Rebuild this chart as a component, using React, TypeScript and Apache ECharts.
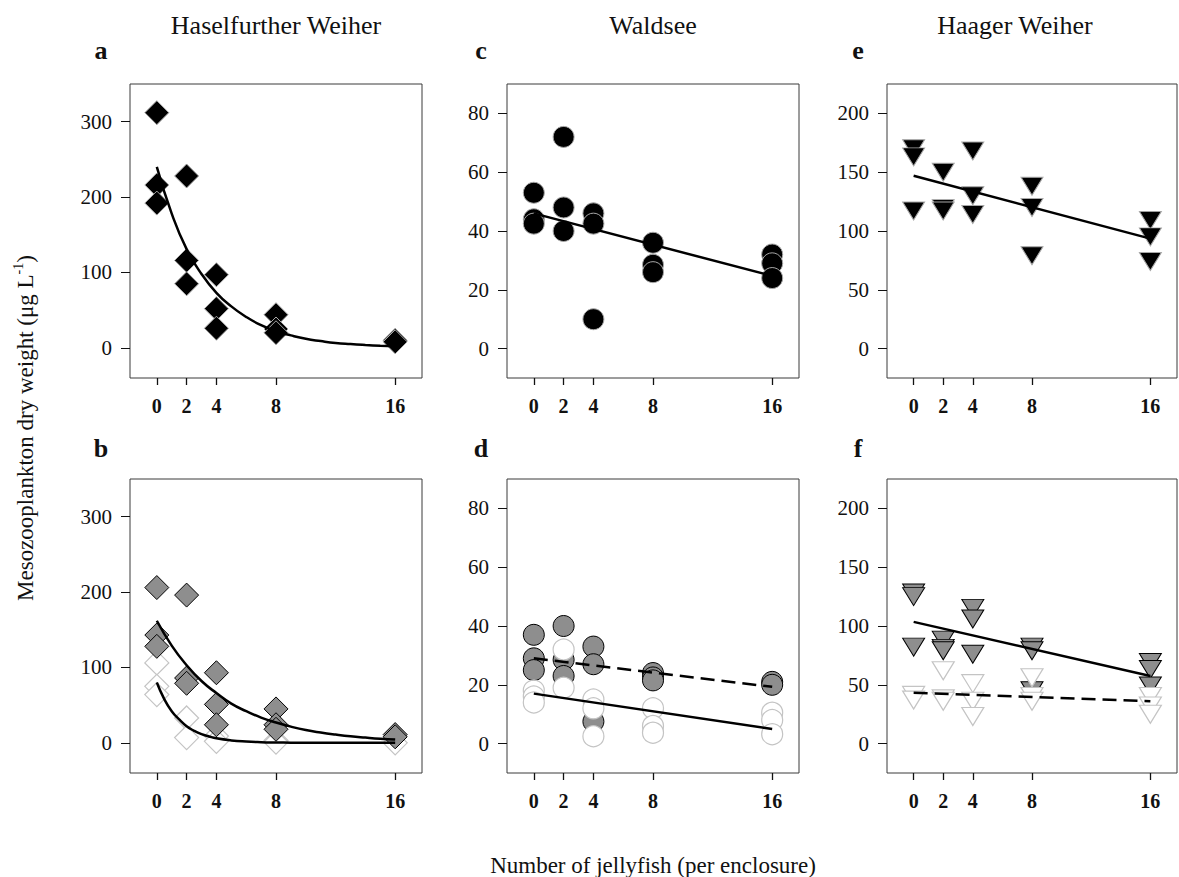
import React, { useEffect, useRef } from "react";
import * as echarts from "echarts";

// ---- tick values / categories ----
const X_TICKS = [0, 2, 4, 8, 16];
const Y_TICKS_HW = [0, 100, 200, 300];
const Y_TICKS_WS = [0, 20, 40, 60, 80];
const Y_TICKS_HA = [0, 50, 100, 150, 200];

const TITLES = ["Haselfurther Weiher", "Waldsee", "Haager Weiher"];
const PANEL_LETTERS = ["a", "b", "c", "d", "e", "f"];

// ---- data: values per jellyfish density (0,2,4,8,16) ----
// a: Haselfurther Weiher, total
const hwA = [[312, 216, 192], [228, 116, 85], [97, 52, 26], [44, 25, 20], [10, 8]];
// b: Haselfurther Weiher, grey and white groups
const hwBGrey = [[206, 143, 128], [196, 86, 79], [93, 51, 24], [45, 24, 18], [11, 8]];
const hwBWhite = [[106, 75, 64], [33, 7], [9, 2], [3, 1], [0]];
// c: Waldsee, total
const wsC = [[53, 44, 42.5], [72, 48, 40], [46, 42.5, 10], [36, 28.5, 26], [32, 29, 24]];
// d: Waldsee, grey and white groups
const wsDGrey = [[37, 29, 25], [40, 28.5, 23], [33, 27, 7.5], [24, 22.5, 21.5], [21, 20]];
const wsDWhite = [[18, 16, 14], [32, 19], [15, 12, 2.5], [12, 6, 3.7], [10.5, 8, 3.2]];
// e: Haager Weiher, total
const haE = [[170, 163, 117], [150, 119, 117], [168, 130, 114], [138, 120, 79], [109, 95, 74]];
// f: Haager Weiher, grey and white groups
const haFGrey = [[128, 125, 82], [88, 81, 79], [115, 106, 76], [82, 79, 45], [69, 63, 49]];
const haFWhite = [[41, 37], [62, 38, 36], [51, 36, 23], [56, 40, 36], [40, 32, 25]];

// ---- fitted curves / lines ----
const fitA = [[0, 240], [1, 178], [2, 131], [3, 98], [4, 73], [5, 55], [6, 41], [7, 30], [8, 22], [9, 16.5], [10, 12], [11, 9], [12, 6.5], [13, 5], [14, 3.8], [15, 2.8], [16, 2]];
const fitBGrey = [[0, 162], [1, 129], [2, 103], [3, 82], [4, 66], [5, 52], [6, 42], [7, 33.5], [8, 27], [9, 21.5], [10, 17], [11, 13.7], [12, 11], [13, 8.7], [14, 7], [15, 5.5], [16, 4.4]];
const fitBWhite = [[0, 80], [0.5, 58], [1, 42], [1.5, 31], [2, 22], [2.5, 16], [3, 11.5], [3.5, 8.5], [4, 6], [5, 3.2], [6, 1.7], [7, 0.9], [8, 0.5], [9, 0.25], [10, 0.1], [11, 0.05], [12, 0], [14, 0], [16, 0]];
const lineC = [[0, 46], [16, 24.7]];
const lineDGrey = [[0, 29], [16, 19.3]];
const lineDWhite = [[0, 17], [16, 5]];
const lineE = [[0, 147], [16, 93.5]];
const lineFGrey = [[0, 103.5], [16, 57.5]];
const lineFWhite = [[0, 43.3], [16, 36]];

const FONT = "'Liberation Serif', 'Times New Roman', serif";

function toPoints(groups: number[][]) {
  const pts: number[][] = [];
  groups.forEach((g, i) => g.forEach((v) => pts.push([X_TICKS[i], v])));
  return pts;
}

export default function App() {
  const ref = useRef<HTMLDivElement>(null);

  useEffect(() => {
    if (!ref.current) return;
    const chart = echarts.init(ref.current, null, { renderer: "svg" });

    const lefts = [130, 507, 887];
    const widths = [292, 292, 290];
    const tops = [84, 479];
    const H = 294;

    const grids: any[] = [];
    const xAxes: any[] = [];
    const yAxes: any[] = [];
    const yCfg = [
      { min: -40, max: 350, ticks: Y_TICKS_HW },
      { min: -10, max: 90, ticks: Y_TICKS_WS },
      { min: -25, max: 225, ticks: Y_TICKS_HA },
    ];
    for (let i = 0; i < 6; i++) {
      const col = Math.floor(i / 2);
      const row = i % 2;
      grids.push({
        left: lefts[col],
        top: tops[row],
        width: widths[col],
        height: H,
        show: true,
        borderColor: "#3a3a3a",
        borderWidth: 1,
        backgroundColor: "transparent",
        containLabel: false,
        outerBoundsMode: "none",
      });
      xAxes.push({
        type: "value",
        gridIndex: i,
        min: -1.8,
        max: 17.8,
        position: "bottom",
        axisLine: { show: false, onZero: false },
        splitLine: { show: false },
        axisTick: {
          show: true,
          inside: false,
          length: 7,
          customValues: X_TICKS,
          lineStyle: { color: "#111", width: 1.3 },
        },
        axisLabel: {
          customValues: X_TICKS,
          margin: 18,
          fontSize: 20,
          fontWeight: "bold",
          fontFamily: FONT,
          color: "#111",
        },
      });
      const yc = yCfg[col];
      yAxes.push({
        type: "value",
        gridIndex: i,
        min: yc.min,
        max: yc.max,
        position: "left",
        axisLine: { show: false, onZero: false },
        splitLine: { show: false },
        axisTick: {
          show: true,
          inside: false,
          length: 9,
          customValues: yc.ticks,
          lineStyle: { color: "#111", width: 1 },
        },
        axisLabel: {
          customValues: yc.ticks,
          margin: 18,
          fontSize: 21,
          fontFamily: FONT,
          color: "#111",
        },
      });
    }

    const BLACK = { color: "#000", borderColor: "#a8a8a8", borderWidth: 1, opacity: 1 };
    const GREY = { color: "#8e8e8e", borderColor: "#000", borderWidth: 1, opacity: 1 };
    const WHITE = { color: "#fff", borderColor: "#c4c4c4", borderWidth: 1.2, opacity: 1 };

    const scatter = (gi: number, groups: number[][], symbol: string, size: any, style: any, rotate = 0) => ({
      type: "scatter",
      xAxisIndex: gi,
      yAxisIndex: gi,
      data: toPoints(groups),
      symbol,
      symbolSize: size,
      symbolRotate: rotate,
      itemStyle: style,
      z: 2,
      silent: true,
    });
    const fit = (gi: number, data: number[][], dashed = false, smooth: any = false) => ({
      type: "line",
      xAxisIndex: gi,
      yAxisIndex: gi,
      data,
      symbol: "none",
      smooth,
      lineStyle: { color: "#000", width: 2.5, type: dashed ? [14, 7] : "solid" },
      z: 5,
      silent: true,
    });

    const DIA = 24;
    const CIR = 21;
    const TRI = [22, 18];

    const series: any[] = [
      // a
      scatter(0, hwA, "diamond", DIA, BLACK),
      fit(0, fitA, false, true),
      // b
      scatter(1, hwBWhite, "diamond", DIA, WHITE),
      scatter(1, hwBGrey, "diamond", DIA, GREY),
      fit(1, fitBGrey, false, true),
      fit(1, fitBWhite, false, true),
      // c
      scatter(2, wsC, "circle", CIR, BLACK),
      fit(2, lineC),
      // d
      scatter(3, wsDGrey, "circle", CIR, GREY),
      scatter(3, wsDWhite, "circle", CIR, WHITE),
      fit(3, lineDGrey, true),
      fit(3, lineDWhite),
      // e
      scatter(4, haE, "triangle", TRI, BLACK, 180),
      fit(4, lineE),
      // f
      scatter(5, haFGrey, "triangle", TRI, GREY, 180),
      scatter(5, haFWhite, "triangle", TRI, WHITE, 180),
      fit(5, lineFGrey),
      fit(5, lineFWhite, true),
    ];

    const titleX = [276, 653, 1015];
    const letterX = [101, 481, 858];
    const letterY = [50, 448];
    const graphic: any[] = [];
    TITLES.forEach((t, c) => {
      graphic.push({
        type: "text",
        x: titleX[c],
        y: 25,
        style: {
          text: t,
          fontSize: 26,
          fontFamily: FONT,
          fill: "#111",
          textAlign: "center",
          textVerticalAlign: "middle",
        },
      });
    });
    PANEL_LETTERS.forEach((l, i) => {
      const col = Math.floor(i / 2);
      const row = i % 2;
      graphic.push({
        type: "text",
        x: letterX[col],
        y: letterY[row],
        style: {
          text: l,
          fontSize: 26,
          fontWeight: "bold",
          fontFamily: FONT,
          fill: "#111",
          textAlign: "center",
          textVerticalAlign: "middle",
        },
      });
    });
    graphic.push({
      type: "text",
      x: 653,
      y: 865,
      style: {
        text: "Number of jellyfish (per enclosure)",
        fontSize: 23,
        fontFamily: FONT,
        fill: "#111",
        textAlign: "center",
        textVerticalAlign: "middle",
      },
    });
    graphic.push({
      type: "text",
      x: 24,
      y: 428,
      rotation: Math.PI / 2,
      style: {
        text: "{m|Mesozooplankton dry weight (μg L}{s|-1}{m|)}",
        fontFamily: FONT,
        fill: "#111",
        textAlign: "center",
        textVerticalAlign: "middle",
        rich: {
          m: { fontSize: 23, fontFamily: FONT, lineHeight: 26, verticalAlign: "bottom" },
          s: { fontSize: 14, fontFamily: FONT, lineHeight: 26, verticalAlign: "top" },
        },
      },
    });

    chart.setOption({
      animation: false,
      backgroundColor: "#fff",
      grid: grids,
      xAxis: xAxes,
      yAxis: yAxes,
      series,
      graphic,
    });

    return () => chart.dispose();
  }, []);

  return (
    <div
      ref={ref}
      style={{ position: "absolute", left: 0, top: 0, width: 1179, height: 877 }}
    />
  );
}
